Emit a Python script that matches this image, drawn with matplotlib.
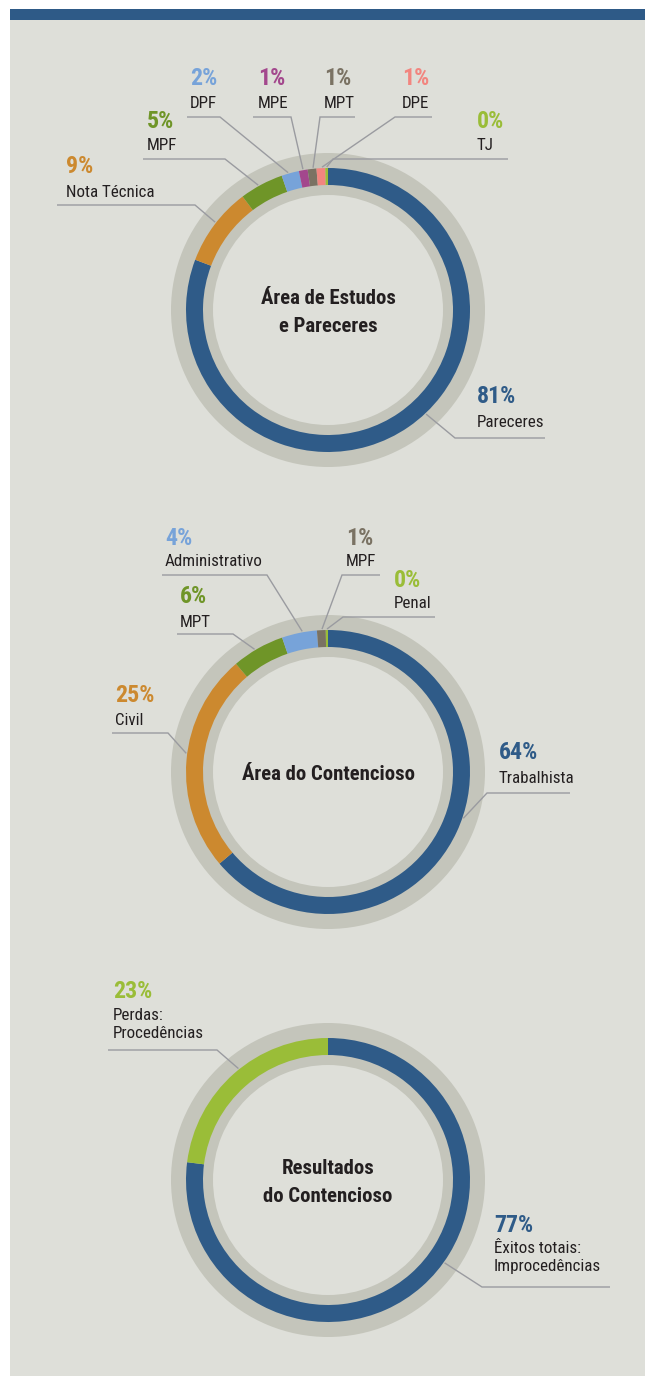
import os
import numpy as np
import matplotlib
matplotlib.use("Agg")
import matplotlib.pyplot as plt
from matplotlib import font_manager as fm
from matplotlib.font_manager import FontProperties
from matplotlib.patches import Rectangle
from matplotlib.textpath import TextPath

# ---- data -------------------------------------------------------------
estudos_labels = ["Pareceres", "Nota Técnica", "MPF", "DPF", "MPE", "MPT", "DPE", "TJ"]
estudos_values = [81, 9, 5, 2, 1, 1, 1, 0.3]

contencioso_labels = ["Trabalhista", "Civil", "MPT", "Administrativo", "MPF", "Penal"]
contencioso_values = [64, 25, 6, 4, 1, 0.25]

resultados_labels = ["Êxitos totais:\nImprocedências", "Perdas:\nProcedências"]
resultados_values = [77, 23]

titles = ["Área de Estudos\ne Pareceres", "Área do Contencioso", "Resultados\ndo Contencioso"]

# ---- palette ----------------------------------------------------------
NAVY = "#2F5B88"
ORANGE = "#CC892F"
OLIVE = "#6F9528"
SKY = "#77A3D9"
PLUM = "#A3478D"
TAUPE = "#7A7263"
SALMON = "#F2857F"
LIME = "#9ABD38"
RING = "#C4C5BB"
PANEL = "#DEDFD9"
LEADER = "#9A9BA0"
INK = "#231F20"

estudos_colors = [NAVY, ORANGE, OLIVE, SKY, PLUM, TAUPE, SALMON, LIME]
contencioso_colors = [NAVY, ORANGE, OLIVE, SKY, TAUPE, LIME]
resultados_colors = [NAVY, LIME]


# ---- fonts: prefer a narrow sans, else a regular one ------------------
def _is_bold(f):
    w = f.weight
    if isinstance(w, str):
        return w.lower() in ("bold", "heavy", "black", "demibold", "semibold", "extra bold")
    return w >= 600


def _narrow_font(bold):
    prefs = ["liberation sans narrow", "roboto condensed", "open sans condensed",
             "dejavu sans condensed", "noto sans condensed"]
    found = {}
    for f in fm.fontManager.ttflist:
        fn = os.path.basename(f.fname).lower()
        if f.style != "normal" or "italic" in fn or "oblique" in fn:
            continue
        if _is_bold(f) != bold:
            continue
        tag = (f.name + " " + fn).lower()
        if not ("condensed" in tag or "narrow" in tag or f.stretch in ("condensed", "semi-condensed")):
            continue
        if "light" in fn or "thin" in fn or "medium" in fn:
            continue
        for i, p in enumerate(prefs):
            key = p.split()[0]
            if key in tag:
                found.setdefault(i, f.fname)
        found.setdefault(len(prefs), f.fname)
    if found:
        return FontProperties(fname=found[min(found)])
    return FontProperties(family=["Roboto", "DejaVu Sans"], weight="bold" if bold else "normal")


def fitted(bold, samples, target_px):
    """Font size (pt at 100 dpi) whose summed sample widths equal target_px."""
    fp = _narrow_font(bold)
    w = sum(TextPath((0, 0), s, size=1, prop=fp).get_extents().width for s in samples)
    fp.set_size(target_px / w * 72 / 100)
    return fp


FP_NAME = fitted(False, ["Improcedências", "Procedências", "Nota Técnica",
                         "Administrativo", "Trabalhista"], 453)
FP_PCT = fitted(True, ["81%", "77%", "23%", "25%"], 36 + 37 + 37 + 40)
FP_TITLE = fitted(True, ["Área de Estudos"], 134)

W, H = 645, 1376
fig = plt.figure(figsize=(W / 100, H / 100), dpi=100)
fig.patch.set_facecolor("white")

bg = fig.add_axes([0, 0, 1, 1], zorder=0)
bg.set_xlim(0, W)
bg.set_ylim(H, 0)
bg.axis("off")
bg.add_patch(Rectangle((10, 20), W - 10, H - 20, color=PANEL, lw=0))
bg.add_patch(Rectangle((10, 9), W - 10, 11, color="#2E5A87", lw=0))

ov = fig.add_axes([0, 0, 1, 1], zorder=3)
ov.set_xlim(0, W)
ov.set_ylim(H, 0)
ov.axis("off")
ov.patch.set_alpha(0)

CX = 328
R_RING, RING_W = 157, 42
R_COL, COL_W = 142, 17
R_ANCHOR = 143
BOX = 165


def donut(cy, values, colors):
    ax = fig.add_axes([(CX - BOX) / W, (H - cy - BOX) / H, 2 * BOX / W, 2 * BOX / H], zorder=1)
    ax.pie([1], radius=R_RING, colors=[RING], startangle=90,
           wedgeprops=dict(width=RING_W, linewidth=0))
    ax.pie(values, radius=R_COL, colors=colors, startangle=90, counterclock=False,
           wedgeprops=dict(width=COL_W, linewidth=0))
    ax.set_xlim(-BOX, BOX)
    ax.set_ylim(-BOX, BOX)
    ax.set_aspect("equal")
    ax.axis("off")


def label(cy, value, name, color, tx, pct_base, name_base, ly, lx0, lx1, angle):
    ov.text(tx, pct_base, f"{round(value):d}%", color=color, fontproperties=FP_PCT,
            va="baseline", ha="left")
    for i, line in enumerate(name.split("\n")):
        ov.text(tx, name_base + i * 18, line, color=INK, fontproperties=FP_NAME,
                va="baseline", ha="left")
    th = np.radians(angle)
    ex = CX + R_ANCHOR * np.sin(th)
    ey = cy - R_ANCHOR * np.cos(th)
    ov.plot([lx0, lx1, ex], [ly, ly, ey], color=LEADER, lw=1.0,
            solid_capstyle="butt", solid_joinstyle="miter")


def title(cy, text):
    lines = text.split("\n")
    n = len(lines)
    for i, line in enumerate(lines):
        base = cy + 8 + (i - (n - 1) / 2) * 27
        ov.text(CX, base, line, color=INK, fontproperties=FP_TITLE,
                ha="center", va="baseline")


# ---- label layout: text x, % baseline, name baseline, line y, line x0, elbow x, anchor angle
estudos_layout = [
    (477, 403, 427, 438, 545, 455, 136.7),
    (66, 173, 197, 205, 57, 195, 307.9),
    (147, 128, 150, 159, 143, 225, 330.8),
    (190, 85, 108, 117, 187, 220, 343.8),
    (258, 85, 108, 117, 253, 291, 349.9),
    (324, 85, 108, 117, 355, 320, 354.0),
    (402, 85, 108, 117, 432, 395, 357.6),
    (477, 128, 150, 159, 508, 333, 359.5),
]
contencioso_layout = [
    (499, 759, 783, 793, 570, 487, 108.9),
    (115, 702, 725, 733, 112, 168, 277.5),
    (180, 603, 627, 634, 177, 233, 329.1),
    (165, 545, 566, 575, 162, 267, 349.6),
    (346, 545, 566, 575, 380, 342, 357.6),
    (394, 587, 608, 617, 435, 343, 359.6),
]
resultados_layout = [
    (494, 1232, 1253, 1287, 610, 482, 125.4),
    (113, 998, 1020, 1050, 108, 217, 321.2),
]

charts = [
    (310, estudos_values, estudos_labels, estudos_colors, estudos_layout, titles[0]),
    (772, contencioso_values, contencioso_labels, contencioso_colors, contencioso_layout, titles[1]),
    (1180, resultados_values, resultados_labels, resultados_colors, resultados_layout, titles[2]),
]

for cy, vals, names, cols, layout, ttl in charts:
    donut(cy, vals, cols)
    title(cy, ttl)
    for v, n, c, lay in zip(vals, names, cols, layout):
        label(cy, v, n, c, *lay)

fig.savefig("out.png", dpi=100, facecolor=fig.get_facecolor())
